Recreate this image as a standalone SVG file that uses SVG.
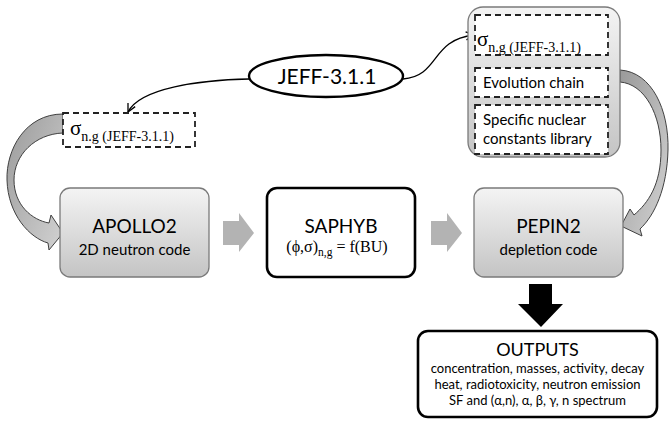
<svg xmlns="http://www.w3.org/2000/svg" width="670" height="422" viewBox="0 0 670 422">
<defs>
<linearGradient id="gbox" x1="0" y1="0" x2="0" y2="1">
<stop offset="0" stop-color="#f4f4f4"/>
<stop offset="1" stop-color="#c4c4c4"/>
</linearGradient>
<linearGradient id="garc" x1="0" y1="0" x2="1" y2="1">
<stop offset="0" stop-color="#9a9a9a"/>
<stop offset="1" stop-color="#d2d2d2"/>
</linearGradient>
<marker id="vee" viewBox="0 0 10 10" refX="9" refY="5" markerWidth="10" markerHeight="10" markerUnits="userSpaceOnUse" orient="auto">
<path d="M1,1 L9,5 L1,9" fill="none" stroke="#000" stroke-width="1.3"/>
</marker>
</defs>
<style>
.sans{font-family:Lato,"Liberation Sans",Arial,sans-serif;fill:#000}
.serif{font-family:"Liberation Serif","Times New Roman",serif;fill:#000}
.gbox{fill:url(#gbox);stroke:#7a7a7a;stroke-width:1.3}
.dash{fill:#fff;stroke:#222;stroke-width:1.8;stroke-dasharray:6,4}
.bold{fill:#fff;stroke:#000;stroke-width:2.6}
.blk{fill:#b3b3b3}
.arc{fill:url(#garc);stroke:#404040;stroke-width:1}
.conn{fill:none;stroke:#000;stroke-width:1.3}
</style>
<rect width="670" height="422" fill="#fff"/>

<g id="connectors">
<path class="conn" d="M249,79 C200,80 140,88 128,112" marker-end="url(#vee)"/>
<path class="conn" d="M403,79 C440,76 430,40 474,35" marker-end="url(#vee)"/>
<path class="arc" d="M63,114 C25,114 6,150 7,180 C8,215 30,238 48,243 L49,250 L63,233 L51,215 L49,223 C32,220 14,205 14,180 C14,155 35,134 63,133 Z"/>
<path class="arc" d="M620,70 C652,72 669,110 668,150 C667,188 655,215 640,229 L642,236 L621,226 L630,209 L634,215 C648,203 661,185 661,150 C661,115 645,84 620,82 Z"/>
<path class="blk" d="M223,221 H239 V213 L254,233 L239,252 V245 H223 Z"/>
<path class="blk" d="M431,221 H447 V213 L462,233 L447,252 V245 H431 Z"/>
<path fill="#000" d="M529,284 H552 V304 H563 L541,327 L518,304 H529 Z"/>
</g>

<g id="jeff">
<ellipse cx="326" cy="76" rx="77" ry="21" fill="#fff" stroke="#000" stroke-width="2.4"/>
<text class="sans" x="327" y="84" font-size="21" text-anchor="middle">JEFF-3.1.1</text>
</g>

<g id="sigma-left">
<rect class="dash" x="63" y="113" width="132" height="34"/>
<text class="serif" x="70" y="135" font-size="21">σ<tspan font-size="14" dy="6">n.g</tspan><tspan font-size="14"> (JEFF-3.1.1)</tspan></text>
</g>

<g id="pepin-data">
<rect class="gbox" x="468" y="7" width="152" height="150" rx="15"/>
<rect class="dash" x="475" y="15" width="133" height="40"/>
<text class="serif" x="477" y="46" font-size="21">σ<tspan font-size="14" dy="6">n.g</tspan><tspan font-size="14"> (JEFF-3.1.1)</tspan></text>
<rect class="dash" x="475" y="68" width="133" height="29"/>
<text class="sans" x="483" y="88" font-size="15">Evolution chain</text>
<rect class="dash" x="475" y="105" width="133" height="49"/>
<text class="sans" x="483" y="125" font-size="15">Specific nuclear</text>
<text class="sans" x="483" y="144" font-size="15">constants library</text>
</g>

<g id="apollo2">
<rect class="gbox" x="60" y="188" width="149" height="89" rx="10"/>
<text class="sans" x="134.5" y="233" font-size="19" text-anchor="middle">APOLLO2</text>
<text class="sans" x="134.5" y="255" font-size="15" text-anchor="middle">2D neutron code</text>
</g>

<g id="saphyb">
<rect class="bold" x="267" y="188" width="148" height="89" rx="10"/>
<text class="sans" x="341" y="233" font-size="19" text-anchor="middle">SAPHYB</text>
<text class="serif" x="337" y="252" font-size="16" text-anchor="middle">(ϕ,σ)<tspan font-size="11.5" dy="4">n,g</tspan><tspan dy="-4"> = f(BU)</tspan></text>
</g>

<g id="pepin2">
<rect class="gbox" x="474" y="188" width="149" height="89" rx="10"/>
<text class="sans" x="548.5" y="233" font-size="19" text-anchor="middle">PEPIN2</text>
<text class="sans" x="548.5" y="255" font-size="15" text-anchor="middle">depletion code</text>
</g>

<g id="outputs">
<rect class="bold" x="418" y="331" width="239" height="86" rx="10"/>
<text class="sans" x="537.5" y="356" font-size="18" text-anchor="middle">OUTPUTS</text>
<text class="sans" x="537.5" y="373" font-size="13" text-anchor="middle">concentration, masses, activity, decay</text>
<text class="sans" x="537.5" y="389" font-size="13" text-anchor="middle">heat, radiotoxicity, neutron emission</text>
<text class="sans" x="537.5" y="405" font-size="13" text-anchor="middle">SF and (α,n), α, β, γ, n spectrum</text>
</g>
</svg>
